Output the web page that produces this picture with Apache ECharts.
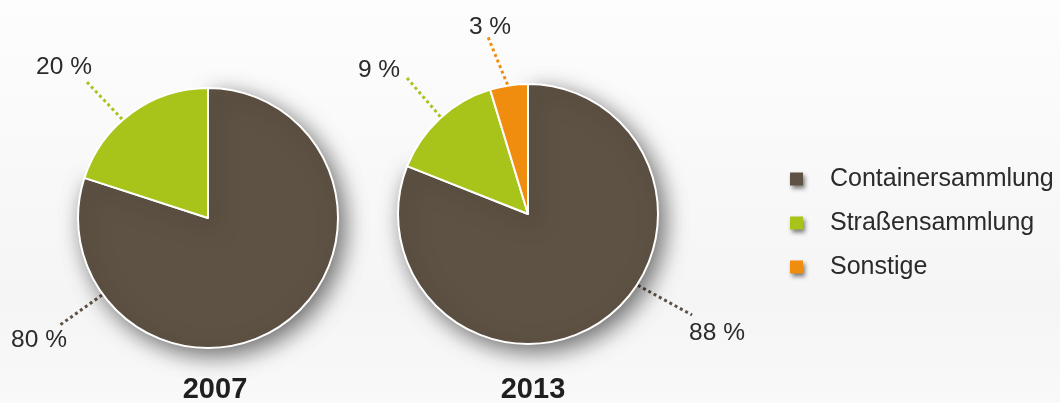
<!DOCTYPE html>
<html>
<head>
<meta charset="utf-8">
<script src="https://cdn.jsdelivr.net/npm/echarts@6/dist/echarts.min.js"></script>
<style>
  html, body { margin: 0; padding: 0; }
  #chart { width: 1060px; height: 403px; }
</style>
</head>
<body>
<div id="chart"></div>
<script>
// ---- data ----
const categories = ['Containersammlung', 'Straßensammlung', 'Sonstige'];
const years = ['2007', '2013'];
// slice shares as drawn in the picture
const slices2007 = [80, 20];
const slices2013 = [81, 14.3, 4.7];
// percentages printed next to the slices
const printed2007 = [80, 20];
const printed2013 = [88, 9, 3];

// ---- style ----
const colors = ['#5e5244', '#a8c41b', '#f08d0f'];
const textColor = '#2b2b2b';
const fontFamily = '"Liberation Sans", Arial, sans-serif';
const R = 130;
const centers = [[208, 218], [528, 214]];
// label geometry per pie: anchor angle on rim (deg clockwise from top), leader end and text centre relative to pie centre
const labelGeo = [
  [ {a: 234, end: [-148, 107], txt: [-169, 122]},
    {a: 319, end: [-123, -138], txt: [-144, -151]} ],
  [ {a: 123, end: [164, 101], txt: [189, 119]},
    {a: 318, end: [-121, -136], txt: [-149, -144]},
    {a: 351, end: [-40, -177], txt: [-38, -187]} ]
];
const printed = [printed2007, printed2013];

function makeData(vals) {
  return vals.map((v, i) => ({
    name: categories[i],
    value: v,
    itemStyle: Object.assign({ color: colors[i] },
      i === 0 ? { shadowBlur: 22, shadowOffsetX: 6, shadowOffsetY: 7, shadowColor: 'rgba(0,0,0,0.55)' } : {}),
    labelLine: { lineStyle: { color: colors[i] } }
  }));
}

function makeLayout(si) {
  return function (params) {
    const g = labelGeo[si][params.dataIndex];
    const c = centers[si];
    const rad = g.a * Math.PI / 180;
    const ax = c[0] + (R + 1) * Math.sin(rad);
    const ay = c[1] - (R + 1) * Math.cos(rad);
    const ex = c[0] + g.end[0], ey = c[1] + g.end[1];
    return {
      x: c[0] + g.txt[0],
      y: c[1] + g.txt[1],
      align: 'center',
      verticalAlign: 'middle',
      labelLinePoints: [[ax, ay], [(ax + ex) / 2, (ay + ey) / 2], [ex, ey]]
    };
  };
}

function makeSeries(si, vals) {
  return {
    type: 'pie',
    center: centers[si],
    radius: R,
    startAngle: 90,
    clockwise: true,
    avoidLabelOverlap: false,
    silent: true,
    itemStyle: { borderColor: '#ffffff', borderWidth: 2 },
    label: {
      show: true,
      position: 'outside',
      color: textColor,
      fontFamily: fontFamily,
      fontSize: 24.5,
      formatter: p => printed[si][p.dataIndex] + ' %'
    },
    labelLine: {
      show: true,
      length: 10,
      length2: 10,
      lineStyle: { type: 'dotted', width: 3 }
    },
    labelLayout: makeLayout(si),
    data: makeData(vals)
  };
}

const chart = echarts.init(document.getElementById('chart'), null, { renderer: 'canvas' });
chart.setOption({
  animation: false,
  backgroundColor: {
    type: 'linear', x: 0, y: 0, x2: 0, y2: 1,
    colorStops: [
      { offset: 0, color: '#fdfdfd' },
      { offset: 0.75, color: '#f5f5f5' },
      { offset: 1, color: '#f9f9f9' }
    ]
  },
  color: colors,
  title: years.map((y, i) => ({
    text: y,
    left: centers[i][0] + (i === 0 ? 7 : 5),
    top: 375,
    textAlign: 'center',
    padding: 0,
    textStyle: { fontFamily: fontFamily, fontWeight: 'bold', fontSize: 29, color: '#1f1f1f' }
  })),
  legend: {
    orient: 'vertical',
    left: 790,
    top: 166,
    padding: 0,
    itemWidth: 13,
    itemHeight: 13,
    itemGap: 18,
    icon: 'rect',
    data: categories,
    selectedMode: false,
    itemStyle: { shadowBlur: 4, shadowOffsetX: 2, shadowOffsetY: 3, shadowColor: 'rgba(0,0,0,0.5)', borderWidth: 0 },
    textStyle: {
      fontFamily: fontFamily,
      fontSize: 25,
      color: textColor,
      lineHeight: 26,
      padding: [0, 0, 0, 22]
    }
  },
  series: [makeSeries(0, slices2007), makeSeries(1, slices2013)]
});
</script>
</body>
</html>
